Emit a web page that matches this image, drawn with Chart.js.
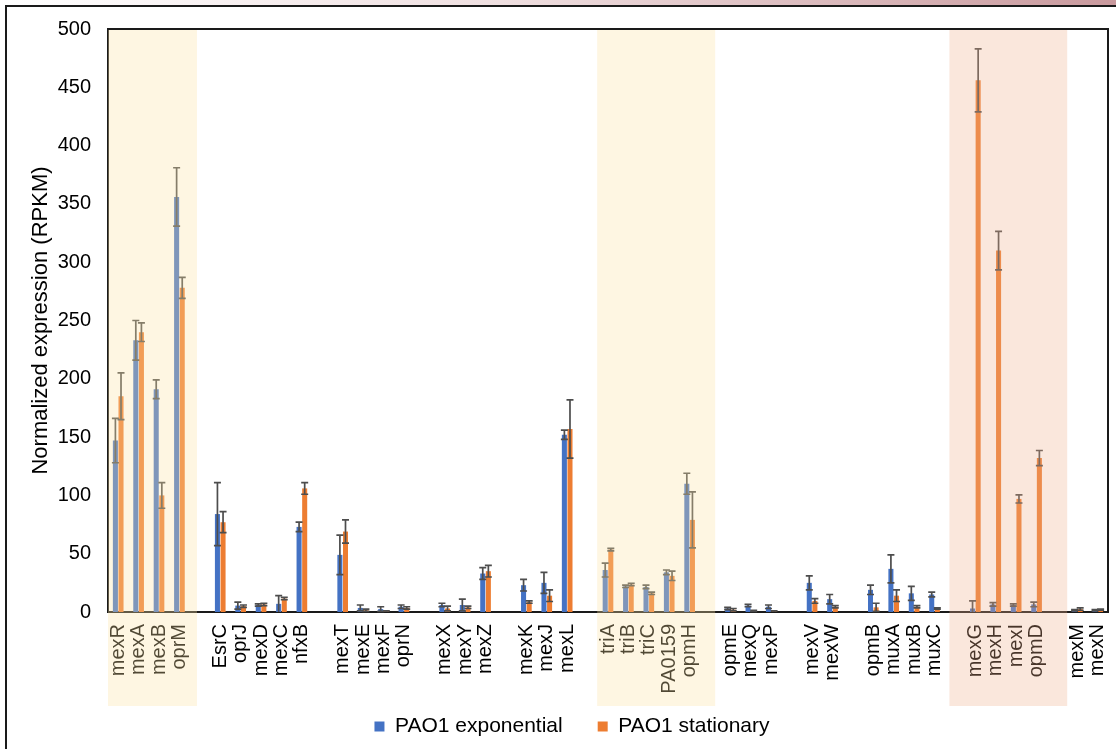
<!DOCTYPE html>
<html>
<head>
<meta charset="utf-8">
<script src="https://cdn.jsdelivr.net/npm/chart.js@4/dist/chart.umd.min.js"></script>
<style>
  html, body { margin: 0; padding: 0; background: #fff; }
  #wrap { position: relative; width: 1116px; height: 749px; }
</style>
</head>
<body>
<div id="wrap"><canvas id="c" width="1116" height="749"></canvas></div>
<script>
const categories = ['mexR','mexA','mexB','oprM','',
  'EsrC','oprJ','mexD','mexC','nfxB','',
  'mexT','mexE','mexF','oprN','',
  'mexX','mexY','mexZ','',
  'mexK','mexJ','mexL','',
  'triA','triB','triC','PA0159','opmH','',
  'opmE','mexQ','mexP','',
  'mexV','mexW','',
  'opmB','muxA','muxB','muxC','',
  'mexG','mexH','mexI','opmD','',
  'mexM','mexN'];

const exponential = [147, 233, 191, 356, null,
  84, 5.5, 6, 7, 73, null,
  49, 3.5, 2.5, 4.5, null,
  6, 6, 33, null,
  23, 25, 152, null,
  36, 22, 21.5, 34, 110, null,
  3, 5.5, 4.5, null,
  25, 11, null,
  19, 37, 16, 15, null,
  3, 6.5, 6, 6.5, null,
  1.5, 1.5];

const exponentialErr = [19, 17, 8, 25, null,
  27, 3, 1, 7, 4, null,
  17, 2.5, 2, 1.5, null,
  1.5, 5, 5, null,
  5, 9, 4, null,
  6, 1, 1.5, 2, 9, null,
  1, 1, 1.5, null,
  6, 4, null,
  4, 12, 6, 2, null,
  6.5, 1.5, 1, 2, null,
  0.5, 0.5];

const stationary = [185, 240, 100, 278, null,
  77, 5, 6.5, 11.5, 106, null,
  69, 1.5, 0.5, 3.5, null,
  3, 4, 35, null,
  8.5, 14, 157, null,
  53.5, 23.5, 16, 31, 79, null,
  2, 1, 0.5, null,
  9.5, 4.5, null,
  4, 14, 4.5, 3, null,
  456, 310, 97, 132, null,
  2.5, 2];

const stationaryErr = [20, 8, 11, 9, null,
  9, 1, 1, 1, 5, null,
  10, 1, 0.5, 1, null,
  2, 1, 5, null,
  1, 5, 25, null,
  1, 1, 1, 4, 24, null,
  1, 0.5, 0.5, null,
  2, 1, null,
  3.5, 5, 1, 0.5, null,
  27, 16.5, 3.5, 6.5, null,
  1, 0.5];

const yTicks = [0, 50, 100, 150, 200, 250, 300, 350, 400, 450, 500];

// highlighted groups, in category-index units
const bands = [
  {from: -0.5, to: 3.86, color: 'rgba(252,226,165,0.32)'},
  {from: 23.47, to: 29.25, color: 'rgba(252,226,165,0.32)'},
  {from: 40.73, to: 46.5, color: 'rgba(238,175,140,0.3)'}
];

const FONT = 'Liberation Sans, Arial, sans-serif';

const decor = {
  id: 'decor',
  afterLayout(chart) {
    if (chart.legend) { chart.legend.left += 18; chart.legend.right += 18; }
    // let the rotated category labels run below the legend's top edge
    if (chart.scales.x) { chart.scales.x.bottom += 30; }
  },
  beforeDraw(chart) {
    const ctx = chart.ctx;
    ctx.save();
    ctx.fillStyle = '#fff';
    ctx.fillRect(0, 0, chart.width, chart.height);
    const g = ctx.createLinearGradient(0, 0, chart.width, 0);
    g.addColorStop(0, '#ffffff');
    g.addColorStop(0.45, '#efdfe0');
    g.addColorStop(1, '#c9999d');
    ctx.fillStyle = g;
    ctx.fillRect(0, 0, chart.width, 5);
    ctx.strokeStyle = '#1a1a1a';
    ctx.lineWidth = 2;
    ctx.beginPath();
    ctx.moveTo(6, chart.height + 2);
    ctx.lineTo(6, 6);
    ctx.lineTo(chart.width + 2, 6);
    ctx.stroke();
    ctx.restore();
  },
  afterDatasetsDraw(chart) {
    const ctx = chart.ctx;
    const ys = chart.scales.y;
    const errs = [exponentialErr, stationaryErr];
    ctx.save();
    ctx.strokeStyle = '#4d4d4d';
    ctx.lineWidth = 1.7;
    chart.data.datasets.forEach((ds, di) => {
      const meta = chart.getDatasetMeta(di);
      meta.data.forEach((bar, j) => {
        const v = ds.data[j], e = errs[di][j];
        if (v == null || e == null) return;
        const yt = ys.getPixelForValue(v + e);
        const yb = ys.getPixelForValue(Math.max(v - e, 0));
        const x = bar.x;
        ctx.beginPath();
        ctx.moveTo(x, yt); ctx.lineTo(x, yb);
        ctx.moveTo(x - 3.5, yt); ctx.lineTo(x + 3.5, yt);
        if (v - e > 0) { ctx.moveTo(x - 3.5, yb); ctx.lineTo(x + 3.5, yb); }
        ctx.stroke();
      });
    });
    ctx.restore();
  },
  afterDraw(chart) {
    const ctx = chart.ctx;
    const a = chart.chartArea;
    const xs = chart.scales.x;
    const p0 = xs.getPixelForValue(0), p1 = xs.getPixelForValue(1);
    const step = p1 - p0;
    ctx.save();
    bands.forEach(b => {
      const xl = p0 + b.from * step;
      const xr = p0 + b.to * step;
      ctx.fillStyle = b.color;
      ctx.fillRect(xl, a.top + 1, xr - xl, 706 - a.top - 1);
    });
    ctx.strokeStyle = '#1a1a1a';
    ctx.lineWidth = 2;
    ctx.beginPath();
    ctx.moveTo(a.left, a.top);
    ctx.lineTo(a.right, a.top);
    ctx.lineTo(a.right, a.bottom);
    ctx.stroke();
    ctx.restore();
  }
};

new Chart(document.getElementById('c'), {
  type: 'bar',
  data: {
    labels: categories,
    datasets: [
      {label: 'PAO1 exponential', data: exponential, backgroundColor: '#4472C4', barPercentage: 0.9, categoryPercentage: 0.55},
      {label: 'PAO1 stationary', data: stationary, backgroundColor: '#ED7D31', barPercentage: 0.9, categoryPercentage: 0.55}
    ]
  },
  options: {
    responsive: false,
    animation: false,
    devicePixelRatio: 1,
    layout: {padding: {left: 0, right: 8, top: 27, bottom: 2}},
    plugins: {
      legend: {
        position: 'bottom',
        labels: {
          boxWidth: 10, boxHeight: 10, padding: 35,
          color: '#000',
          font: {family: FONT, size: 21}
        }
      },
      tooltip: {enabled: false}
    },
    scales: {
      x: {
        grid: {display: false, drawTicks: false},
        border: {display: true, color: '#1a1a1a', width: 2},
        ticks: {
          autoSkip: false, minRotation: 90, maxRotation: 90, padding: 12,
          color: '#000', font: {family: FONT, size: 20, lineHeight: 1}
        },
        afterFit(s) { s.height = 69; s.paddingLeft = 0; s.paddingRight = 0; }
      },
      y: {
        min: 0, max: 500,
        afterBuildTicks(s) { s.ticks = yTicks.map(v => ({value: v})); },
        grid: {display: false, drawTicks: false},
        border: {display: true, color: '#1a1a1a', width: 2},
        ticks: {padding: 17, color: '#000', font: {family: FONT, size: 20}},
        title: {
          display: true, text: 'Normalized expression (RPKM)',
          color: '#000', font: {family: FONT, size: 22}, padding: {top: 28, bottom: 0}
        },
        afterFit(s) { s.width = 108; }
      }
    }
  },
  plugins: [decor]
});
</script>
</body>
</html>
